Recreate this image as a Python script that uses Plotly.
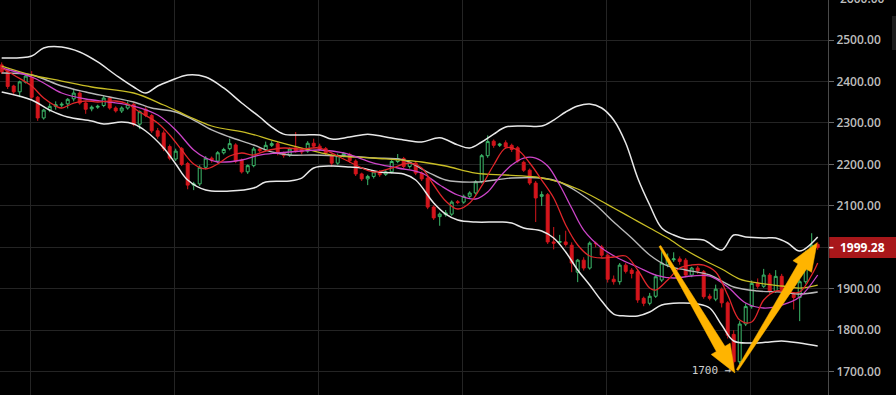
import plotly.graph_objects as go

# ---------------- data ----------------
open_ = [2440, 2425, 2389, 2375, 2398, 2410, 2362, 2312, 2331, 2340,
         2343, 2346, 2358, 2372, 2348, 2334, 2338, 2342, 2360, 2336,
         2329, 2336, 2345, 2297, 2333, 2318, 2281, 2276, 2243, 2213,
         2238, 2202, 2150, 2153, 2193, 2215, 2208, 2228, 2238, 2247,
         2210, 2182, 2197, 2237, 2235, 2246, 2250, 2227, 2222, 2240,
         2236, 2232, 2251, 2244, 2238, 2221, 2203, 2221, 2224, 2208,
         2177, 2165, 2171, 2182, 2176, 2182, 2207, 2214, 2195, 2203,
         2179, 2167, 2097, 2074, 2079, 2080, 2110, 2109, 2123, 2131,
         2158, 2221, 2256, 2246, 2252, 2246, 2240, 2205, 2186, 2155,
         2123, 2127, 2013, 2012, 2013, 2005, 1940, 1969, 1950, 2010,
         2001, 1981, 1923, 1917, 1957, 1945, 1941, 1877, 1865, 1882,
         1921, 1958, 1970, 1972, 1969, 1933, 1950, 1941, 1882, 1875,
         1899, 1866, 1790, 1724, 1815, 1857, 1913, 1906, 1933, 1894,
         1930, 1898, 1886, 1879, 1917, 1987, 2007]
high = [2446, 2430, 2392, 2402, 2416, 2425, 2365, 2334, 2347, 2352,
        2350, 2360, 2382, 2376, 2352, 2342, 2344, 2366, 2364, 2340,
        2340, 2352, 2350, 2330, 2338, 2322, 2288, 2282, 2248, 2238,
        2242, 2206, 2158, 2198, 2220, 2219, 2232, 2240, 2262, 2251,
        2214, 2200, 2242, 2241, 2255, 2256, 2254, 2231, 2241, 2278,
        2240, 2256, 2262, 2250, 2242, 2225, 2226, 2230, 2228, 2212,
        2180, 2175, 2186, 2186, 2186, 2211, 2225, 2218, 2210, 2207,
        2183, 2170, 2101, 2084, 2090, 2113, 2114, 2127, 2135, 2162,
        2225, 2270, 2260, 2252, 2258, 2250, 2244, 2209, 2190, 2160,
        2135, 2131, 2049, 2030, 2040, 2012, 1972, 1976, 2014, 2014,
        2006, 1985, 1932, 1962, 1962, 1950, 1945, 1881, 1890, 1935,
        1990, 1985, 1988, 1978, 1974, 1953, 1955, 1945, 1888, 1910,
        1903, 1870, 1800, 1822, 1865, 1920, 1925, 1948, 1938, 1945,
        1936, 1905, 1892, 1922, 1992, 2034, 2012]
low = [2418, 2382, 2370, 2362, 2395, 2358, 2305, 2308, 2326, 2332,
       2338, 2335, 2352, 2344, 2322, 2328, 2334, 2338, 2332, 2325,
       2324, 2332, 2292, 2285, 2314, 2276, 2262, 2232, 2210, 2208,
       2196, 2140, 2138, 2148, 2188, 2204, 2203, 2224, 2234, 2203,
       2178, 2177, 2193, 2229, 2231, 2242, 2222, 2216, 2218, 2228,
       2224, 2228, 2240, 2232, 2222, 2195, 2199, 2217, 2204, 2172,
       2160, 2150, 2166, 2170, 2172, 2178, 2203, 2190, 2190, 2174,
       2160, 2092, 2066, 2052, 2074, 2076, 2104, 2105, 2119, 2127,
       2154, 2216, 2240, 2242, 2238, 2230, 2204, 2182, 2150, 2061,
       2100, 2008, 1995, 2006, 2002, 1940, 1916, 1944, 1946, 2000,
       1975, 1915, 1910, 1910, 1937, 1925, 1866, 1858, 1860, 1878,
       1916, 1952, 1965, 1958, 1928, 1928, 1936, 1876, 1872, 1870,
       1855, 1780, 1710, 1718, 1810, 1852, 1900, 1902, 1888, 1890,
       1892, 1880, 1850, 1822, 1912, 1982, 1994]
close = [2423, 2388, 2375, 2399, 2413, 2362, 2312, 2331, 2340, 2344,
         2345, 2357, 2372, 2348, 2333, 2338, 2340, 2360, 2336, 2329,
         2336, 2345, 2297, 2327, 2318, 2281, 2268, 2238, 2215, 2232,
         2200, 2150, 2153, 2193, 2215, 2210, 2228, 2236, 2250, 2208,
         2182, 2197, 2237, 2233, 2246, 2250, 2227, 2222, 2237, 2232,
         2230, 2251, 2244, 2236, 2227, 2203, 2221, 2226, 2209, 2177,
         2165, 2171, 2182, 2175, 2182, 2207, 2214, 2195, 2205, 2179,
         2165, 2097, 2071, 2080, 2083, 2109, 2108, 2123, 2131, 2158,
         2221, 2255, 2246, 2249, 2242, 2236, 2208, 2186, 2155, 2119,
         2127, 2013, 2010, 2014, 2007, 1962, 1969, 1950, 2010, 2009,
         1981, 1923, 1917, 1957, 1942, 1937, 1873, 1865, 1882, 1929,
         1962, 1972, 1972, 1966, 1933, 1950, 1943, 1881, 1877, 1899,
         1866, 1788, 1724, 1815, 1857, 1913, 1906, 1933, 1894, 1930,
         1898, 1886, 1879, 1917, 1987, 2005, 1999.28]
bars = list(range(len(close)))

upper_idx = [0, 5, 7, 10, 13, 16, 19, 22, 24, 26, 28, 31, 34, 37, 40, 43, 45, 47, 50, 53, 55, 58,
             61, 64, 67, 70, 73, 76, 78, 80, 82, 84, 87, 90, 92, 94, 96, 98, 100, 102, 104, 106,
             108, 110, 112, 114, 117, 120, 122, 124, 127, 129, 131, 133, 136]
upper_val = [2456.6, 2461.4, 2480.7, 2483, 2471, 2447, 2415.6, 2386.7, 2372.2, 2389, 2401, 2415.6,
             2410.8, 2384.3, 2348, 2314.3, 2290, 2273, 2271, 2271, 2261, 2266, 2273, 2266, 2259,
             2254, 2264, 2247, 2239.5, 2254, 2273, 2290, 2292.6, 2292.6, 2307, 2326.4, 2340.8,
             2345.7, 2336, 2307, 2251.6, 2167.2, 2102, 2046.6, 2029.7, 2020, 2017.6, 1993.5,
             2029.7, 2025, 2022.5, 2022.5, 2010.4, 1991, 2025]

mid_idx = [0, 5, 10, 14, 18, 22, 25, 29, 32, 35, 38, 42, 45, 48, 52, 57, 62, 67, 71, 74, 79, 85,
           90, 93, 96, 99, 102, 105, 108, 111, 114, 118, 122, 126, 130, 133, 136]
mid_val = [2420.4, 2415.6, 2389, 2374.6, 2362.5, 2350.5, 2336, 2326.4, 2307, 2283, 2266, 2246.8,
           2230, 2222.6, 2222.6, 2220.2, 2215.4, 2210.6, 2181.6, 2162.3, 2157.5, 2167.2, 2167.2,
           2157.5, 2133.4, 2102, 2061, 2022.4, 1981.5, 1955, 1945.3, 1933.2, 1904.3, 1894.6,
           1892.2, 1887.4, 1892.2]

lower_idx = [0, 5, 8, 11, 15, 17, 20, 22, 24, 27, 29, 31, 34, 38, 42, 44, 48, 50, 52, 55, 58, 60,
             63, 67, 69, 72, 74, 76, 79, 83, 85, 87, 90, 92, 94, 96, 98, 100, 102, 104, 106, 108,
             110, 113, 116, 118, 120, 122, 125, 128, 130, 133, 136]
lower_val = [2374.6, 2355.3, 2331, 2314.3, 2304.6, 2297.4, 2302.2, 2297.4, 2280.5, 2239.5, 2201,
             2162.3, 2138.2, 2135.8, 2143, 2157.5, 2160, 2167, 2191.3, 2196, 2193.7, 2191.3,
             2181.6, 2176.8, 2162.3, 2107, 2080.3, 2066, 2061, 2061, 2058.6, 2046.6, 2039.3,
             2022.4, 1988.7, 1945.3, 1909, 1870.5, 1839, 1834.3, 1834.3, 1844, 1860.8, 1865.7,
             1863.3, 1853.6, 1812.6, 1774, 1769.2, 1771.6, 1774, 1769, 1762]

slow_idx = [0, 5, 10, 15, 22, 27, 31, 35, 41, 45, 50, 55, 62, 70, 74, 79, 84, 89, 93, 96, 99, 102,
            105, 108, 111, 114, 117, 120, 123, 126, 130, 133, 136]
slow_val = [2437.3, 2415.6, 2401, 2386.7, 2372.2, 2343.2, 2316.7, 2292.6, 2275.7, 2258.8, 2239.5,
            2222.6, 2215.4, 2205.8, 2196.1, 2179.2, 2174.4, 2169.6, 2157.5, 2140.6, 2119, 2094.8,
            2070.7, 2046.6, 2022.4, 1993.5, 1969.4, 1947.7, 1923.5, 1914, 1906.7, 1901.8, 1909]

fast_idx = [0, 2, 5, 7, 9, 10, 12, 14, 16, 19, 21, 23, 26, 28, 30, 32, 34, 36, 38, 40, 42, 44, 47,
            50, 53, 56, 59, 62, 65, 68, 70, 72, 74, 76, 78, 80, 82, 84, 86, 88, 90, 92, 94, 96, 98,
            100, 102, 104, 106, 108, 109, 111, 113, 115, 117, 119, 121, 123, 125, 127, 129, 131,
            133, 135, 136]
fast_val = [2432.5, 2415.6, 2389, 2360, 2340.8, 2336, 2348, 2352.9, 2350.5, 2352.9, 2345.7, 2326.4,
            2299.8, 2271, 2234.7, 2201, 2189, 2201, 2220.2, 2227.5, 2222.6, 2232.3, 2239.5, 2237,
            2239.5, 2220.2, 2198.5, 2181.6, 2191.3, 2203.3, 2191.3, 2150.3, 2111.7, 2092.4, 2107,
            2148, 2198.5, 2239.5, 2234.7, 2203.3, 2162.3, 2119, 2053.8, 2005.6, 1979, 1974.2,
            1976.6, 1979, 1945.3, 1901.8, 1897, 1921.1, 1950, 1957.3, 1957.3, 1940.4, 1885,
            1824.7, 1819.8, 1872.9, 1894.6, 1892.2, 1892.2, 1933.2, 1962.1]

med_idx = [0, 5, 7, 10, 14, 18, 22, 26, 29, 32, 34, 36, 40, 43, 46, 50, 53, 57, 62, 66, 70, 73,
           76, 79, 81, 83, 85, 87, 89, 91, 93, 95, 97, 100, 103, 106, 109, 112, 115, 118, 121,
           124, 127, 130, 133, 136]
med_val = [2432.5, 2410.8, 2396.3, 2372.2, 2357.7, 2350.5, 2340.8, 2319.1, 2283, 2234.7, 2215.4,
           2205.8, 2210.6, 2222.6, 2227.5, 2232.3, 2234.7, 2227.5, 2203.3, 2191.3, 2179.2, 2150.3,
           2126.2, 2116.5, 2133.4, 2169.6, 2198.5, 2215.4, 2215.4, 2196, 2150.3, 2094.8, 2041.7,
           1998.3, 1971.8, 1952.5, 1933.2, 1926, 1930.8, 1930.8, 1904.3, 1865.7, 1853.6, 1860.8,
           1880.2, 1933.2]

price_ticks = [1700, 1800, 1900, 2000, 2100, 2200, 2300, 2400, 2500]
top_tick_label = "2600.00"
last_price = 1999.28
# annotation arrows (bar index, price): tail -> tip
arrows = [((109.7, 2003.0), (122.2, 1697.0)),
          ((122.6, 1704.0), (135.9, 2011.0))]
note_text = "1700 →"
note_pos = (118.3, 1700)

# ---------------- layout geometry ----------------
W, H = 896, 395
R_MARGIN = 68
PW, PH = W - R_MARGIN, H
X0, X1 = -0.283, 137.717
Y0, Y1 = 1643.8, 2596.5


def to_px(i, p):
    return ((i - X0) / (X1 - X0) * PW, (Y1 - p) / (Y1 - Y0) * PH)


def to_data(x, y):
    return (X0 + x / PW * (X1 - X0), Y1 - y / PH * (Y1 - Y0))


def arrow_path(tail, tip, head_len=28, w_tail=1.0, w_neck=5.0, w_head=11.0):
    tx, ty = to_px(*tail)
    px, py = to_px(*tip)
    dx, dy = px - tx, py - ty
    L = (dx * dx + dy * dy) ** 0.5
    ux, uy = dx / L, dy / L
    nx, ny = -uy, ux
    bx, by = tx + ux * (L - head_len), ty + uy * (L - head_len)
    pts = [(tx + nx * w_tail, ty + ny * w_tail),
           (bx + nx * w_neck, by + ny * w_neck),
           (bx + nx * w_head, by + ny * w_head),
           (px, py),
           (bx - nx * w_head, by - ny * w_head),
           (bx - nx * w_neck, by - ny * w_neck),
           (tx - nx * w_tail, ty - ny * w_tail)]
    d = []
    for k, (x, y) in enumerate(pts):
        a, b = to_data(x, y)
        d.append(("M" if k == 0 else "L") + f"{a:.4f},{b:.3f}")
    return " ".join(d) + " Z"


fig = go.Figure()
fig.add_trace(go.Candlestick(
    x=bars, open=open_, high=high, low=low, close=close,
    increasing=dict(line=dict(color="#3dbb6b", width=1), fillcolor="#000000"),
    decreasing=dict(line=dict(color="#d4151c", width=1), fillcolor="#d4151c"),
    whiskerwidth=0, showlegend=False, hoverinfo="skip"))


def add_line(xs, ys, color, width):
    fig.add_trace(go.Scatter(x=xs, y=ys, mode="lines",
                             line=dict(color=color, width=width, shape="spline", smoothing=1.0),
                             showlegend=False, hoverinfo="skip"))


add_line(upper_idx, upper_val, "#e8e8e8", 1.5)
add_line(lower_idx, lower_val, "#e8e8e8", 1.5)
add_line(mid_idx, mid_val, "#b8b8b8", 1.4)
add_line(slow_idx, slow_val, "#c8bd25", 1.3)
add_line(med_idx, med_val, "#cc45c8", 1.3)
add_line(fast_idx, fast_val, "#e0262a", 1.3)

fig.add_trace(go.Scatter(x=[note_pos[0]], y=[note_pos[1]], mode="text", text=[note_text],
                         textfont=dict(family="DejaVu Sans Mono", size=11, color="#cfcfcf"),
                         textposition="middle center", showlegend=False, hoverinfo="skip"))

shapes = []
for tail, tip in arrows:
    shapes.append(dict(type="path", path=arrow_path(tail, tip), xref="x", yref="y",
                       fillcolor="#FFB400", line=dict(color="#FFB400", width=0.5), layer="above"))

# last price box
box_h = 10.5 * (Y1 - Y0) / PH
shapes.append(dict(type="rect", xref="paper", yref="y", x0=1.0015, x1=W / PW,
                   y0=last_price - box_h, y1=last_price + box_h,
                   fillcolor="#a8171a", line=dict(width=0), layer="above"))
shapes.append(dict(type="line", xref="paper", yref="y", x0=1.0015, x1=1.0065,
                   y0=last_price, y1=last_price, line=dict(color="#ffffff", width=1.5), layer="above"))
# faint scrollbar strip
shapes.append(dict(type="rect", xref="paper", yref="paper", x0=892 / PW, x1=W / PW,
                   y0=1 - 50 / PH, y1=1 - 16 / PH, fillcolor="#1c1c1c", line=dict(width=0)))

annotations = [
    dict(xref="paper", yref="y", x=838 / PW, y=last_price, xanchor="left", yanchor="middle",
         text=f"{last_price:.2f}", showarrow=False,
         font=dict(family="Open Sans", size=12, color="#ffffff", weight=700)),
    dict(xref="paper", yref="paper", x=838 / PW, y=1 + ((2600 - Y1) / (Y1 - Y0)), xanchor="left",
         yanchor="middle", text=top_tick_label, showarrow=False,
         font=dict(family="Open Sans", size=12, color="#bdbdbd", weight=600)),
]

fig.update_layout(
    width=W, height=H,
    margin=dict(l=0, r=R_MARGIN, t=0, b=0, pad=0),
    paper_bgcolor="#000000", plot_bgcolor="#000000",
    shapes=shapes, annotations=annotations,
    xaxis=dict(range=[X0, X1], rangeslider=dict(visible=False), showticklabels=False,
               tickmode="array", tickvals=[4.72 + 24 * k for k in range(6)],
               showgrid=True, gridcolor="#242424", gridwidth=1, zeroline=False, ticks=""),
    yaxis=dict(range=[Y0, Y1], side="right", tickmode="array", tickvals=price_ticks,
               # the 2000 label is hidden behind the last-price box in the reference
               ticktext=["" if v == 2000 else f"{v:.2f}" for v in price_ticks],
               showgrid=True, gridcolor="#242424", gridwidth=1, zeroline=False,
               ticks="outside", ticklen=5, tickcolor="#666666", tickwidth=1,
               showline=True, linecolor="#4a4a4a", linewidth=1,
               tickfont=dict(family="Open Sans", size=12, color="#bdbdbd", weight=600)),
    boxgap=0.3,
    hovermode=False,
)

fig.write_html("out.html")
